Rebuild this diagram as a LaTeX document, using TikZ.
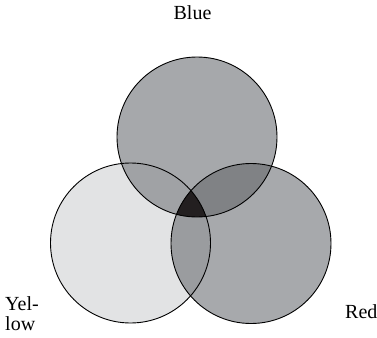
\documentclass[tikz,border=0pt]{standalone}
\usepackage{fontspec}
\setmainfont{Liberation Serif}
\usetikzlibrary{positioning}
\definecolor{toptone}{RGB}{166,168,171}
\definecolor{lefttone}{RGB}{226,227,228}
\definecolor{righttone}{RGB}{167,169,172}
\definecolor{tlmix}{RGB}{160,162,165}
\definecolor{trmix}{RGB}{128,130,133}
\definecolor{lrmix}{RGB}{154,156,159}
\definecolor{coremix}{RGB}{35,31,32}
\newcommand{\rad}{80}

\begin{document}
\begin{tikzpicture}[x=1pt, y=-1pt,
  rim/.style={draw=black, line width=0.9pt},
  lab/.style={font=\fontsize{20}{20}\selectfont, inner sep=0pt}]
\useasboundingbox (0,0) rectangle (377,337);
\coordinate (blue) at (197,137);
\coordinate (yellow) at (130.5,243);
\coordinate (red) at (251,243.5);
% single discs
\fill[toptone] (blue) circle (\rad);
\fill[lefttone] (yellow) circle (\rad);
\fill[righttone] (red) circle (\rad);
% pairwise overlaps
\begin{scope}
  \clip (blue) circle (\rad);
  \fill[tlmix] (yellow) circle (\rad);
  \fill[trmix] (red) circle (\rad);
\end{scope}
\begin{scope}
  \clip (yellow) circle (\rad);
  \fill[lrmix] (red) circle (\rad);
  \clip (red) circle (\rad);
  \fill[coremix] (blue) circle (\rad);
\end{scope}
% outlines
\draw[rim] (blue) circle (\rad);
\draw[rim] (yellow) circle (\rad);
\draw[rim] (red) circle (\rad);
\node[lab, anchor=base] (bluelab) at (192.5,19.5) {Blue};
\node[lab, anchor=north west, align=left] (yellowlab) at (5,296) {Yel-\\low};
\node[lab, anchor=base west] (redlab) at (345,318) {Red};
\end{tikzpicture}
\end{document}
